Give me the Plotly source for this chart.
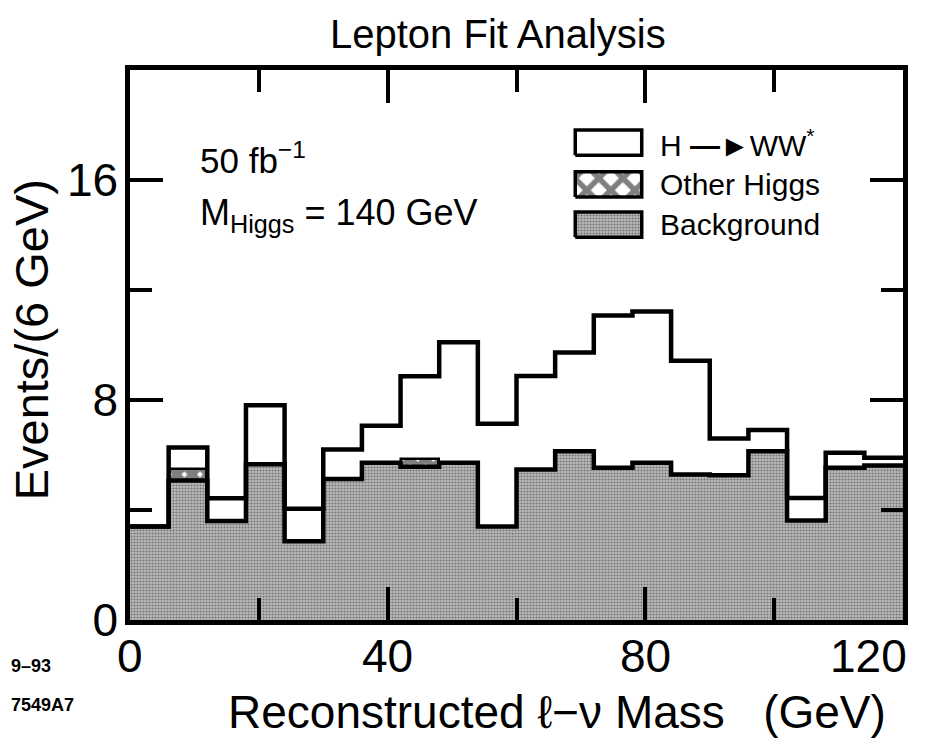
import numpy as np
import plotly.graph_objects as go

# ---- data ----
bin_edges = list(range(0, 126, 6))  # 0..120 GeV, 6 GeV bins
background = [3.40, 5.07, 3.60, 5.66, 2.86, 5.13, 5.72, 5.57, 5.72, 3.40,
              5.47, 6.14, 5.54, 5.72, 5.29, 5.26, 6.14, 3.62, 5.54, 5.62]
other_higgs = [0.00, 0.43, 0.00, 0.00, 0.00, 0.00, 0.00, 0.27, 0.00, 0.00,
               0.00, 0.00, 0.00, 0.00, 0.00, 0.00, 0.00, 0.00, 0.00, 0.00]
h_to_ww = [0.00, 0.77, 0.83, 2.15, 1.19, 1.07, 1.34, 3.02, 4.38, 3.74,
           3.40, 3.59, 5.53, 5.50, 4.14, 1.34, 0.77, 0.82, 0.54, 0.28]
x_ticks = [0, 40, 80, 120]
x_tick_labels = ["0", "40", "80", "120"]
y_ticks = [0, 8, 16]
legend_labels = ["H <b>\u2014\u25ba</b>WW<sup>*</sup>", "Other Higgs", "Background"]

edges = np.array(bin_edges, dtype=float)
centers = (edges[:-1] + edges[1:]) / 2
bg = np.array(background)
oth = np.array(other_higgs)
sig = np.array(h_to_ww)
total = bg + oth + sig

FONT = "Liberation Sans, Arial, Helvetica, sans-serif"
STIPPLE = dict(shape=".", fgcolor="#2e2e2e", bgcolor="#bababa", size=3, solidity=0.4)

fig = go.Figure()

# background (stippled grey) as step fill
fig.add_trace(go.Scatter(
    x=edges, y=np.append(bg, bg[-1]), mode="lines", line_shape="hv",
    line=dict(color="black", width=4.5), fill="tozeroy", fillcolor="#a8a8a8",
    fillpattern=STIPPLE, showlegend=False, hoverinfo="skip"))

# other Higgs (cross hatched) stacked on background
mask = oth > 0
fig.add_trace(go.Bar(
    x=centers[mask], y=oth[mask], base=bg[mask], width=6,
    marker=dict(color="black", line=dict(color="black", width=2.5),
                pattern=dict(shape="x", fgcolor="black", bgcolor="white", size=11, solidity=0.85)),
    showlegend=False, hoverinfo="skip"))

# total outline (H->WW* on top, white)
fig.add_trace(go.Scatter(
    x=edges, y=np.append(total, total[-1]), mode="lines", line_shape="hv",
    line=dict(color="black", width=4.5), showlegend=False, hoverinfo="skip"))

# ---- hand drawn legend on an overlay axis (paper-like 0..1) ----
box_x0, box_x1 = 0.576, 0.662
rows = [0.868, 0.792, 0.719]
box_h = 0.046
styles = [
    dict(fillcolor="white", fillpattern=None),
    dict(fillcolor="white", fillpattern=dict(shape="x", fgcolor="black", bgcolor="white", size=17, solidity=0.55)),
    dict(fillcolor="#a8a8a8", fillpattern=STIPPLE),
]
for yc, st in zip(rows, styles):
    kw = dict(x=[box_x0, box_x1, box_x1, box_x0, box_x0],
              y=[yc - box_h / 2, yc - box_h / 2, yc + box_h / 2, yc + box_h / 2, yc - box_h / 2],
              mode="lines", fill="toself", fillcolor=st["fillcolor"],
              line=dict(color="black", width=3.5), xaxis="x2", yaxis="y2",
              showlegend=False, hoverinfo="skip")
    if st["fillpattern"] is not None:
        kw["fillpattern"] = st["fillpattern"]
    fig.add_trace(go.Scatter(**kw))

annotations = []
for yc, lab in zip(rows, legend_labels):
    annotations.append(dict(xref="paper", yref="paper", x=0.683, y=yc, text=lab,
                            showarrow=False, xanchor="left", yanchor="middle",
                            font=dict(family=FONT, size=30, color="black")))

# x tick labels (last one kept inside the figure, right-aligned as in the reference)
for i, (tv, tl) in enumerate(zip(x_ticks, x_tick_labels)):
    last = i == len(x_ticks) - 1
    annotations.append(dict(xref="x", yref="paper", x=tv, y=-0.014, text=tl,
                            showarrow=False, xanchor="right" if last else "center",
                            xshift=6 if last else 0, yanchor="top",
                            font=dict(family=FONT, size=46, color="black")))

annotations += [
    dict(xref="paper", yref="paper", x=0.088, y=0.84, text="50 fb<sup>\u22121</sup>",
         showarrow=False, xanchor="left", yanchor="middle",
         font=dict(family=FONT, size=35, color="black")),
    dict(xref="paper", yref="paper", x=0.088, y=0.737, text="M<sub>Higgs</sub> = 140 GeV",
         showarrow=False, xanchor="left", yanchor="middle",
         font=dict(family=FONT, size=36, color="black")),
    dict(xref="paper", yref="paper", x=-0.127, y=0.51, text="Events/(6 GeV)", textangle=-90,
         showarrow=False, xanchor="center", yanchor="middle",
         font=dict(family=FONT, size=47, color="black")),
    dict(xref="paper", yref="paper", x=0.553, y=-0.168, text="Reconstructed \u2113\u2212\u03bd Mass\u00a0\u00a0\u00a0(GeV)",
         showarrow=False, xanchor="center", yanchor="middle",
         font=dict(family=FONT, size=46, color="black")),
    dict(xref="paper", yref="paper", x=-0.157, y=-0.083, text="<b>9\u201393</b>",
         showarrow=False, xanchor="left", yanchor="middle",
         font=dict(family=FONT, size=18, color="black")),
    dict(xref="paper", yref="paper", x=-0.157, y=-0.155, text="<b>7549A7</b>",
         showarrow=False, xanchor="left", yanchor="middle",
         font=dict(family=FONT, size=18, color="black")),
]

fig.update_layout(
    width=943, height=745,
    margin=dict(l=130, r=40, t=70, b=125, autoexpand=False),
    paper_bgcolor="white", plot_bgcolor="white",
    barmode="overlay", bargap=0,
    title=dict(text="Lepton Fit Analysis", x=0.528, xanchor="center", y=0.955, yanchor="middle",
               font=dict(family=FONT, size=40, color="black")),
    annotations=annotations,
    xaxis=dict(range=[0, 120], tickvals=x_ticks, showticklabels=False, ticks="inside", ticklen=33,
               tickwidth=3.5, tickcolor="black", showline=True, linewidth=4.5, linecolor="black",
               mirror="allticks", showgrid=False, zeroline=False, automargin=False,
               minor=dict(dtick=20, tick0=0, ticks="inside", ticklen=22, tickwidth=3.5, tickcolor="black")),
    yaxis=dict(range=[0, 20], tickvals=y_ticks, ticks="inside", ticklen=33, tickwidth=3.5,
               tickcolor="black", showline=True, linewidth=4.5, linecolor="black", mirror="allticks",
               showgrid=False, zeroline=False, automargin=False,
               minor=dict(dtick=4, tick0=0, ticks="inside", ticklen=22, tickwidth=3.5, tickcolor="black"),
               tickfont=dict(family=FONT, size=46, color="black"), ticklabelstandoff=-2),
    xaxis2=dict(range=[0, 1], overlaying="x", visible=False, fixedrange=True),
    yaxis2=dict(range=[0, 1], overlaying="y", visible=False, fixedrange=True),
)

fig.write_html("out.html")
